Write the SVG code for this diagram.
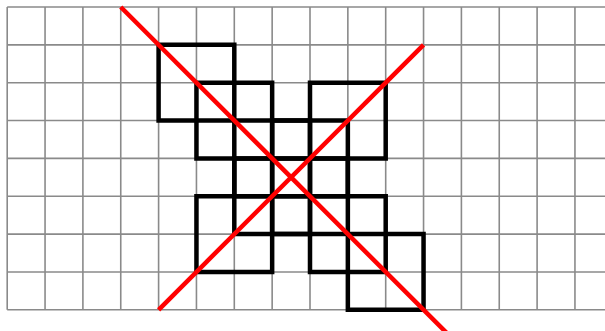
<svg xmlns="http://www.w3.org/2000/svg" width="605" height="331" viewBox="0 0 605 331">
<style>
.grid line{stroke:#8a8a8a;stroke-width:1.6;vector-effect:non-scaling-stroke}
.sq{fill:none;stroke:#000;stroke-width:4.5;vector-effect:non-scaling-stroke}
.red{stroke:#ff0000;stroke-width:4.5;vector-effect:non-scaling-stroke}
</style>
<rect width="605" height="331" fill="#fff"/>
<g transform="translate(7.2,7) scale(37.85)">
<g id="grid" class="grid">
<line x1="0" y1="0" x2="0" y2="8"/><line x1="1" y1="0" x2="1" y2="8"/><line x1="2" y1="0" x2="2" y2="8"/><line x1="3" y1="0" x2="3" y2="8"/><line x1="4" y1="0" x2="4" y2="8"/><line x1="5" y1="0" x2="5" y2="8"/><line x1="6" y1="0" x2="6" y2="8"/><line x1="7" y1="0" x2="7" y2="8"/><line x1="8" y1="0" x2="8" y2="8"/><line x1="9" y1="0" x2="9" y2="8"/><line x1="10" y1="0" x2="10" y2="8"/><line x1="11" y1="0" x2="11" y2="8"/><line x1="12" y1="0" x2="12" y2="8"/><line x1="13" y1="0" x2="13" y2="8"/><line x1="14" y1="0" x2="14" y2="8"/><line x1="15" y1="0" x2="15" y2="8"/>
<line x1="0" y1="0" x2="16" y2="0"/><line x1="0" y1="1" x2="16" y2="1"/><line x1="0" y1="2" x2="16" y2="2"/><line x1="0" y1="3" x2="16" y2="3"/><line x1="0" y1="4" x2="16" y2="4"/><line x1="0" y1="5" x2="16" y2="5"/><line x1="0" y1="6" x2="16" y2="6"/><line x1="0" y1="7" x2="16" y2="7"/><line x1="0" y1="8" x2="16" y2="8"/>
</g>
<g id="squares">
<g id="sq1"><rect class="sq" x="4" y="1" width="2" height="2"/></g>
<g id="sq2"><rect class="sq" x="5" y="2" width="2" height="2"/></g>
<g id="sq3"><rect class="sq" x="6" y="3" width="2" height="2"/></g>
<g id="sq4"><rect class="sq" x="7" y="4" width="2" height="2"/></g>
<g id="sq5"><rect class="sq" x="8" y="5" width="2" height="2"/></g>
<g id="sq6"><rect class="sq" x="9" y="6" width="2" height="2"/></g>
<g id="sq7"><rect class="sq" x="8" y="2" width="2" height="2"/></g>
<g id="sq8"><rect class="sq" x="7" y="3" width="2" height="2"/></g>
<g id="sq9"><rect class="sq" x="6" y="4" width="2" height="2"/></g>
<g id="sq10"><rect class="sq" x="5" y="5" width="2" height="2"/></g>
</g>
<g id="connectors">
<line class="red" x1="3" y1="0" x2="12" y2="9"/>
<line class="red" x1="11" y1="1" x2="4" y2="8"/>
</g>
</g>
</svg>
